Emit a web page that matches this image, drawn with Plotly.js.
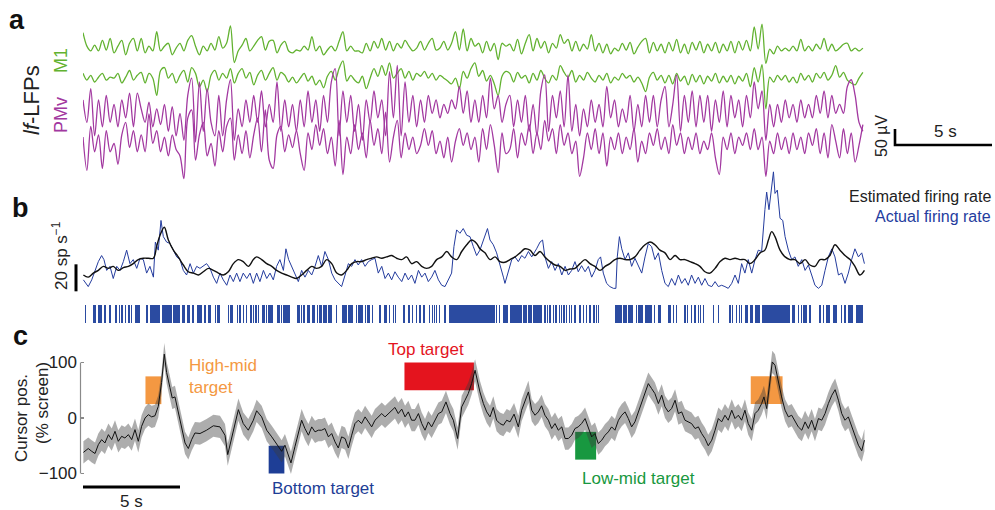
<!DOCTYPE html>
<html><head><meta charset="utf-8">
<script src="https://cdn.plot.ly/plotly-3.0.1.min.js"></script>
<style>html,body{margin:0;padding:0;background:#fff}#chart{width:995px;height:510px}</style>
</head><body><div id="chart"></div>
<script>
// ---------------- DATA ----------------
// Panel a: lf-LFPs (µV), sampled every 0.2 s
const lfpStep = 0.2;
const lfpM1a = [48,6,-9,9,-9,24,-6,30,-15,6, 24,-21,15,30,-9,30,-15,6,-9,51, -9,6,15,-21,0,15,-9,24,39,6,
 -21,6,-9,15,-6,36,0,15,69,-45, -9,9,30,-9,6,24,36,-6,21,24, -15,9,21,-9,-15,-6,
 -9,6,-6,36,-9,6,-21,-6,6,-9, 21,51,-9,6,-9,-9,-15,15,-9,21, 0,30,-6,21,-9,15,0,24,6,-9,
 0,21,-6,15,30,-6,0,21,-6,15, 51,-6,60,-9,30,6,15,-15,21,-9, 15,-36,15,6,
 12,-9,27,-18,15,42,-9,30,0,21, -15,15,0,42,15,27,-9,21,-9,12, -3,42,-9,15,-15,12,-18,0,-9,15,
 -6,18,-18,3,21,30,-15,18,-9,12, -15,18,-9,27,-15,12,-18,18,-6,21, -15,12,-9,18,-15,12,-9,21,-15,21,
 -6,24,-9,66,-3,75,-48,-3,-18,6, -9,0,-9,6,-9,27,-9,6,-9,12, -3,30,-9,12,-9,0,12,15,-9,0, -9,0];
const lfpM1b = [15,-6,9,-12,3,15,-6,3,0,15, -15,3,24,-6,9,18,-15,15,0,-54, 24,33,0,15,-15,9,24,-12,33,15,
 -27,-6,-42,9,24,-6,15,0,30,-15, 15,30,0,18,-21,9,24,-6,15,33, -6,18,9,-12,3,-15,
 0,15,-9,6,-21,-6,-30,6,21,-6, 30,54,-9,9,-6,-15,6,-33,0,30, 6,39,9,48,0,15,30,0,21,-6,
 15,6,21,0,15,-6,9,0,-9,-18, 0,-33,21,0,30,48,6,24,-9,9, -18,-54,6,21,
 15,-12,18,0,9,-15,15,-6,24,0, -15,9,-6,39,18,3,24,-12,9,-6, 18,0,-12,9,-6,15,-15,3,-6,15,
 0,9,-12,3,-15,-42,3,18,-6,9, -15,9,-18,15,-9,6,-21,12,-12,9, -18,6,-9,15,-15,6,-12,9,-18,6,
 -9,15,-27,33,-12,42,-96,3,-12,9, -6,9,-12,3,-15,15,-6,9,-12,15, 0,18,-6,9,39,3,18,-6,-15,-21, 0,18];
const lfpPMvA = [42,-28,77,-70,42,-42,56,-28,28,-42, 42,-14,63,-42,63,14,-28,35,-42,14, -35,28,-56,21,-70,0,-84,56,110,-90,
 98,-56,77,-28,-70,56,-70,42,105,-84, 14,-42,42,-28,56,-28,70,-42,28,-28, 98,-56,42,-42,28,-56,
 42,-42,70,-28,42,-56,56,-28,98,140, -70,70,-28,56,-56,28,-84,42,-28,70, -14,42,-70,130,-14,150,-70,98,-28,56,
 -42,42,-28,56,0,42,-14,28,0,42, 14,84,0,70,-28,42,-28,56,-14,110, 14,56,-28,28,
 56,-42,42,-28,56,-56,28,-70,70,120, -56,56,-14,70,-42,120,-56,28,-70,14, -42,42,-28,28,-42,84,-14,42,-42,14,
 -28,56,-56,28,-42,56,-28,56,-42,42, 84,-42,28,120,-56,56,-28,70,-42,56, -28,56,-56,42,-28,70,-42,56,-14,42,
 -42,56,-14,98,14,70,-84,28,-42,28, -28,42,-14,28,-28,42,-14,28,-14,56, 0,70,-14,56,0,28,0,84,105,56, -28,-56];
const lfpPMvB = [13,-91,46,-33,20,-85,33,-33,-7,-72, 20,59,-20,33,-33,20,-33,85,-7,33, -33,13,-46,20,-26,-46,-117,72,98,-59,
 20,59,-46,-7,-78,33,-33,46,72,-59, 20,-39,33,-52,20,72,-33,98,-59,-85, 20,46,-33,20,-20,33,
 -39,-91,26,-26,52,-13,39,-39,13,-78, 65,-104,13,-39,52,-26,26,-52,65,-13, 39,-39,91,-65,13,65,-52,26,-26,13,
 -39,-13,39,-13,33,-39,0,-52,13,-65, 0,39,-13,26,-26,13,-65,39,-26,52, -13,-98,26,-39,
 -26,39,-52,26,-13,52,-39,26,-26,65, 0,39,-39,52,-13,26,-39,0,-110,-52, 26,-26,39,-39,26,-78,13,-26,26,-39,
 13,-26,39,-65,0,-39,26,-13,39,-26, 13,-39,52,-13,26,-39,13,-26,26,-39, 0,-26,26,-52,-104,13,-26,26,-39,13,
 -13,26,-26,39,-26,13,-110,0,-39,26, -26,13,-39,26,-26,13,-39,26,-13,39, -39,26,-52,52,0,-52,39,-39,26,-65, -13,52];

// Panel b: firing rates (sp/s)
const actualT = [0.02,0.15,0.27,0.45,0.62,0.79,0.96,1.08,1.22,1.39, 1.56,1.74,1.91,2.08,2.25,2.42,2.59,2.77,2.94,3.11,
 3.28,3.45,3.63,3.73,3.88,4.02,4.14,4.31,4.48,4.66, 4.83,5.00,5.17,5.34,5.52,5.69,5.86,6.03,6.20,6.37,
 6.55,6.72,6.89,7.06,7.23,7.41,7.58,7.75,7.92,8.09, 8.26,8.44,8.61,8.78,8.95,9.12,9.30,9.47,9.64,9.81,
 9.98,10.15,10.33,10.46,10.60,10.76,10.93,11.10,11.27,11.44, 11.62,11.79,11.96,12.13,12.30,12.47,12.65,12.82,12.99,13.16,
 13.33,13.51,13.68,13.85,14.02,14.19,14.36,14.54,14.71,14.88, 15.05,15.22,15.40,15.57,15.74,15.91,16.08,16.25,16.43,16.60,
 16.77,16.94,17.11,17.29,17.46,17.63,17.80,17.97,18.14,18.32, 18.49,18.66,18.83,19.00,19.12,19.26,19.43,19.60,19.78,
 19.95,20.12,20.29,20.46,20.64,20.85,20.98,21.15,21.32,21.49, 21.67,21.75,21.92,22.10,22.27,22.44,22.61,22.78,22.96,23.13,
 23.38,23.56,23.69,23.81,23.99,24.16,24.33,24.50,24.68,24.85, 25.02,25.19,25.36,25.53,25.70,25.88,26.05,26.22,26.39,26.56,
 26.68,26.82,26.99,27.16,27.34,27.47,27.54,27.65,27.77,27.94, 28.11,28.28,28.45,28.63,28.80,28.97,29.14,29.31,29.48,29.66,
 29.83,30.00,30.17,30.34,30.52,30.69,30.86,31.03,31.20,31.37, 31.55,31.72,31.89,32.06,32.23,32.41,32.58,32.75,32.92,33.09,
 33.26,33.44,33.61,33.78,33.95,34.12,34.29,34.47,34.64,34.81, 34.98,35.15,35.24,35.36,35.50,35.59,35.67,35.79,35.93,36.07,
 36.19,36.36,36.53,36.70,36.87,37.05,37.22,37.39,37.56,37.73, 37.91,38.08,38.25,38.42,38.60,38.76,38.94,39.11,39.28,39.45,
 39.62,39.79,39.97,40.14,40.28];
const actualRate = [9,6.4,4,9,16,22.5,27,24,16,19, 10,19,16,22.5,31,21,24,17.5,25,24,
 14,19,11,37,31,53,41,37,36,31, 26,24,16,12.6,21,14,19,17.5,19,21,
 17.5,11,6.4,14,9,5,12.6,7.7,14,7.7, 14,10,14,6.4,14,7.7,16,10,14,9,
 19,24,16,32,24,19,14,7.7,16,11, 16,12.6,19,27,19,30,24,14,9,6.4,
 4,12.6,21,19,24,20,24,19,22.5,24, 25,14,19,10,14,9,15,11,7.7,14,
 9,12.6,6.4,16,11,14,7.7,11,16,9, 5,4,9,14,33.6,46,43.5,47,42,
 41,33.6,27,31,38.5,47,38.5,35,29,21, 11,6.4,16,24,26,22.5,27,25,30,26,
 32,37,38.5,26,17.5,22.5,16,21,12.6,19, 12.6,16,22.5,15,19.5,15,19,11,16,24,
 26,14,6.4,4,2.7,2.7,26,41,32,24, 29,19,25,19,14,26,36,33.6,24,29,
 16,6.4,4,10,5,12.6,6.4,10,5,12.6, 6.4,11,5,10,5,4,7.7,4,5,4,
 2.7,6.4,12.6,6.4,21,14,24,14,24,31, 30,61,74,61,80.5,89,73,75.5,54.6,53,
 41,31,24,26,19,24,16,20,12.6,5, 2.7,5,16,26,32,26,12.6,14,6.4,14,
 24,32,26,29,21];
const estT = [0.02,0.27,0.53,0.79,1.05,1.31,1.56,1.82,2.08,2.34, 2.59,2.85,3.11,3.37,3.63,3.80,3.97,4.19,4.40,4.66,
 4.91,5.17,5.43,5.69,5.95,6.20,6.46,6.72,6.98,7.23, 7.49,7.75,8.01,8.26,8.52,8.78,8.95,9.21,9.47,9.73,
 9.98,10.24,10.50,10.76,11.01,11.27,11.53,11.79,12.04,12.30, 12.56,12.82,13.08,13.33,13.59,13.85,14.11,14.36,14.62,14.88,
 15.14,15.40,15.65,15.91,16.17,16.43,16.68,16.94,17.20,17.46, 17.71,17.97,18.23,18.49,18.75,19.00,19.26,19.52,19.78,20.03,
 20.29, 20.46,20.72,20.98,21.24,21.49,21.75,22.01,22.27,22.53,
 22.78,23.04,23.30,23.56,23.81,24.07,24.33,24.59,24.85,25.10, 25.36,25.62,25.88,26.13,26.39,26.65,26.91,27.16,27.42,27.68,
 27.94,28.20,28.45,28.71,28.97,29.23,29.48,29.74,30.00,30.26, 30.52,30.77,31.03,31.29,31.55,31.80,32.06,32.32,32.58,32.84,
 33.09,33.35,33.61,33.87,34.12,34.38,34.64,34.90,35.15,35.33, 35.50,35.67,35.93,36.19,36.44,36.70,36.96,37.22,37.47,37.73,
 37.99,38.25,38.50,38.76,39.02,39.28,39.54,39.79,40.05,40.28];
const estRate = [12.6,11,14,16,19,17.5,19,16,18,19, 21,24,25,25,25,34,42,48,38.5,31,
 26,20,15,14,12.6,15,17.5,16,14,12.6, 15,21,24,22.5,19,24,26,24,21,19,
 16,14,12.6,11,10,12.6,16,19,17.5,19, 24,21,14,12.6,16,21,22.5,22.5,24,25,
 26,25,26,27,25,24,26,21,22.5,19, 17.5,19,24,26,30,26,24,30,35,38.5,
 36, 32,29,24,26,22.5,22,24,26,29,
 32,31,27,30,26,22.5,20,19,16,17, 17.5,21,24,21,19,16,19,21,24,25,
 24,24,26,31,35,37,35,31,29,24, 27,24,24,22.5,21,19,15,14,17.5,22.5,
 25,24,25,24,24,21,24,29,31,38.5, 44.7,41,31,26,24,24,21,24,20,19,
 24,24,27,35,31,27,24,19,12.6,16];

// Spike raster: burst/spike intervals (s)
const spikeStart = [0.12,0.53,0.79,1.13,1.39,1.65,1.87,1.94,2.20,2.34,2.51,2.68,3.23,3.45,4.07,4.66,5.10,5.34,5.62,5.86,
 6.24,6.46,6.84,6.89,7.49,7.58,7.97,8.09,8.26,8.44,8.61,8.78,8.92,9.04,9.21,9.47,9.55,9.98,10.24,10.33,
 11.05,11.27,11.39,11.53,11.79,12.08,12.18,12.39,12.65,13.08,13.33,13.68,14.11,14.19,14.57,14.66,14.90,15.31,15.52,15.62,
 15.79,16.00,16.12,16.48,16.77,16.98,17.20,17.37,17.58,17.85,18.01,18.13,18.23,18.37,18.66,18.88,21.32,21.46,21.67,22.01,
 22.70,22.96,23.21,23.81,23.93,24.07,24.24,24.38,24.55,24.67,24.79,24.93,25.07,25.19,25.36,25.62,25.79,25.96,26.13,26.34,
 26.48,26.56,27.42,27.86,28.11,28.54,28.63,28.97,29.48,29.66,29.74,30.17,30.26,30.43,30.60,31.03,31.15,31.37,31.55,31.72,
 31.81,31.98,32.49,32.75,33.35,33.49,33.69,33.83,33.95,34.12,34.38,34.64,34.98,36.53,36.87,37.05,37.13,37.47,37.99,38.16,
 38.30,38.64,39.11,39.28,39.45,39.85];
const spikeEnd = [0.12,0.67,0.98,1.13,1.39,1.77,1.87,2.04,2.20,2.42,2.51,2.94,3.37,3.97,4.57,5.00,5.26,5.52,5.74,6.12,
 6.34,6.58,6.84,7.06,7.49,7.71,7.97,8.09,8.26,8.44,8.69,8.78,8.92,9.04,9.38,9.47,9.81,10.15,10.24,10.67,
 11.19,11.27,11.39,11.70,11.96,12.08,12.32,12.56,12.82,13.08,13.59,13.93,14.11,14.45,14.57,14.79,14.97,15.31,15.52,15.62,
 15.79,16.00,16.12,16.60,16.86,16.98,17.20,17.37,17.58,17.85,18.01,18.13,18.23,18.37,18.66,21.24,21.32,21.46,21.92,22.61,
 22.87,23.13,23.64,23.81,23.93,24.07,24.24,24.38,24.55,24.67,24.79,24.93,25.07,25.19,25.36,25.62,25.79,25.96,26.13,26.34,
 26.48,26.56,27.77,28.03,28.37,28.54,28.89,29.31,29.48,29.66,29.74,30.17,30.26,30.43,30.60,31.03,31.15,31.37,31.55,31.72,
 31.81,31.98,32.49,32.75,33.35,33.49,33.69,33.83,33.95,34.29,34.55,34.90,36.44,36.70,36.87,37.05,37.30,37.47,37.99,38.16,
 38.50,38.85,39.11,39.28,39.71,40.23];

// Panel c: cursor position (% screen)
const cursorT = [0.02,0.27,0.45,0.62,0.79,0.96,1.13,1.31,1.48,1.65, 1.82,1.99,2.16,2.34,2.51,2.68,2.85,3.02,3.20,3.37,
 3.54,3.71,3.88,4.05,4.19,4.31,4.48,4.60,4.74,4.91, 5.09,5.26,5.43,5.60,5.77,
 6.03,6.37,6.72,7.06,7.32,7.46,7.75,8.01,8.26,8.52, 8.78,8.95,9.21,9.47,9.73,9.98,10.24,10.41,10.58,10.72,
 10.93,11.10,11.27,11.44,11.62,11.79,11.96,12.13,12.30,12.47, 12.65,12.82,12.99,13.16,13.33,13.51,13.68,13.85,14.02,14.19,
 14.36,14.54,14.71,14.88,15.05,15.22,15.40,15.57,15.74,15.91, 16.08,16.25,16.43,16.60,16.77,16.94,17.11,17.29,17.46,17.63,
 17.80,17.97,18.14,18.32,18.49,18.71,18.92,19.09,19.31,19.52, 19.69,19.86,20.03,20.21,
 20.46,20.64,20.81,20.98,21.15,21.32,21.49,21.67,21.84,22.01, 22.22,22.44,22.61,22.78,22.96,23.13,23.30,23.47,23.64,23.81,
 23.99,24.16,24.33,24.50,24.68,24.85,25.02,25.19,25.36,25.53, 25.70,25.88,26.05,26.22,26.39,26.56,26.74,26.91,27.08,27.25,
 27.42,27.60,27.77,27.94,28.11,28.28,28.45,28.63,28.80,28.97, 29.14,29.31,29.48,29.66,29.83,30.00,30.17,30.34,30.52,30.69,
 30.86,31.03,31.20,31.37,31.55,31.72,31.89,32.06,32.23,32.41, 32.58,32.75,32.92,33.09,33.26,33.44,33.61,33.78,33.95,34.12,
 34.29,34.47,34.64,34.81,34.98,35.10,35.24,35.41,35.53,35.67, 35.84,36.01,36.19,36.36,36.53,36.70,36.87,37.05,37.22,37.39,
 37.56,37.73,37.91,38.08,38.25,38.42,38.60,38.77,38.94,39.11, 39.28,39.45,39.63,39.80,39.97,40.14,40.28];
const cursorPos = [-62,-55,-60,-64,-48,-39,-45,-30,-39,-24, -42,-33,-36,-30,-39,-21,-42,-15,0,6,
 2,4,21,64,115,82,55,36,38,9, -21,-45,-55,-39,-27,
 -28,-22,-14,-16,-31,-66,-22,15,-10,-22, -4,13,2,-22,-34,-46,-60,-49,-69,-81,
 -51,-25,-4,-19,-31,-16,-25,-22,-22,-19, -34,-28,-43,-54,-34,-37,-54,-31,-10,-4,
 -10,2,-7,-16,-4,2,8,2,8,14, 19,8,16,2,11,-4,-4,8,-10,-22,
 -7,-16,-4,8,11,29,8,-4,-37,20, 32,44,62,86,
 47,26,11,2,19,-4,-10,-13,-4,-7, 7,-16,14,32,47,14,5,11,22,5,
 -4,-19,-10,-22,-16,-37,-37,-31,-19,-16, -10,-1,-16,-34,-28,-46,-40,-31,-25,-16,
 -22,-4,5,11,-1,-16,-7,11,26,41, 62,53,44,26,41,20,11,17,32,8,
 11,-4,-7,-10,-19,-16,-28,-37,-50,-40, -22,-1,-7,5,-4,14,-1,5,-4,14,
 -10,-22,8,14,26,38,17,71,101,95, 65,38,14,2,5,-7,-16,-22,-7,-19,
 -4,-22,-1,-4,8,26,41,51,32,8, -4,2,-16,-31,-49,-59,-40];
const cursorSem = 20;

// Targets (time window s, cursor range %)
const targetNames = ['High-mid','Bottom','Top','Low-mid','High-mid'];
const targetT0 = [3.22, 9.57, 16.57, 25.37, 34.42];
const targetT1 = [4.04, 10.38, 20.15, 26.45, 36.06];
const targetLo = [25, -100, 50, -75, 25];
const targetHi = [75, -50, 100, -25, 75];

// ---------------- LAYOUT HELPERS ----------------
const W = 995, H = 510, SEC = 19.4;
const PX = p => p / W, PY = p => 1 - p / H;
const FONT = 'Liberation Sans, Arial, Helvetica, sans-serif';
const GREEN = 'rgb(98,178,48)', PURPLE = 'rgb(162,56,160)', BLUE = 'rgb(36,60,158)';
const targetColors = {'High-mid':'rgb(244,152,66)','Bottom':'rgb(30,62,150)','Top':'rgb(228,20,30)','Low-mid':'rgb(24,152,64)'};
const lfpOffsets = [-94, -188, -298, -385];
const lfpColors = [GREEN, GREEN, PURPLE, PURPLE];
const lfpTime = lfpM1a.map((_, i) => i * lfpStep);

const traces = [];
[lfpM1a, lfpM1b, lfpPMvA, lfpPMvB].forEach((arr, k) => {
  traces.push({x: lfpTime, y: arr.map(v => v + lfpOffsets[k]), xaxis:'x', yaxis:'y', type:'scatter', mode:'lines',
    line:{color: lfpColors[k], width: 1.3, shape:'spline', smoothing:0.9}, hoverinfo:'skip'});
});
// panel a scale bars (50 µV, 5 s)
const aBarX = (895 - 83) / SEC, aBarY = -(145 - 18) * 3.125;
traces.push({x:[aBarX, aBarX, aBarX + 5], y:[aBarY + 50, aBarY, aBarY], xaxis:'x', yaxis:'y', mode:'lines',
  line:{color:'#000', width:2.6}, hoverinfo:'skip'});

// panel b
traces.push({x: actualT, y: actualRate, xaxis:'x2', yaxis:'y2', mode:'lines', line:{color: BLUE, width:1}, hoverinfo:'skip'});
traces.push({x: estT, y: estRate, xaxis:'x2', yaxis:'y2', mode:'lines', line:{color:'#111', width:1.4, shape:'spline'}, hoverinfo:'skip'});
const rBase = -(323 - 292) / 1.35, rHeight = (323 - 305) / 1.35;
traces.push({type:'bar', x: spikeStart.map((s, i) => (s + spikeEnd[i]) / 2), y: spikeStart.map(() => rHeight),
  base: rBase, width: spikeStart.map((s, i) => Math.max(spikeEnd[i] - s, 0.06)), xaxis:'x2', yaxis:'y2',
  marker:{color:'rgb(32,66,156)', line:{width:0}}, opacity:0.95, hoverinfo:'skip'});
traces.push({x:[-(83 - 76) / SEC, -(83 - 76) / SEC], y:[0.5, 20.5], xaxis:'x2', yaxis:'y2', mode:'lines',
  line:{color:'#000', width:3}, hoverinfo:'skip'});

// panel c
traces.push({x: cursorT, y: cursorPos.map(v => v + cursorSem), xaxis:'x3', yaxis:'y3', mode:'lines',
  line:{width:0, color:'rgba(0,0,0,0)'}, hoverinfo:'skip'});
traces.push({x: cursorT, y: cursorPos.map(v => v - cursorSem), xaxis:'x3', yaxis:'y3', mode:'lines', fill:'tonexty',
  fillcolor:'rgba(60,60,60,0.42)', line:{width:0, color:'rgba(0,0,0,0)'}, hoverinfo:'skip'});
traces.push({x: cursorT, y: cursorPos, xaxis:'x3', yaxis:'y3', mode:'lines', line:{color:'#111', width:1}, hoverinfo:'skip'});
const cBarY = -(487 - 418) / 0.555;
traces.push({x:[0, 5], y:[cBarY, cBarY], xaxis:'x3', yaxis:'y3', mode:'lines', line:{color:'#000', width:3.2}, hoverinfo:'skip'});

const shapes = targetNames.map((n, i) => ({type:'rect', xref:'x3', yref:'y3', x0: targetT0[i], x1: targetT1[i],
  y0: targetLo[i], y1: targetHi[i], fillcolor: targetColors[n], line:{width:0}, layer:'below'}));
shapes.push({type:'line', xref:'paper', yref:'y3', x0: PX(80.5), x1: PX(80.5), y0:-100, y1:100, line:{color:'#8a8a8a', width:1.2}});

const ann = (text, x, y, opts) => Object.assign({text, x: PX(x), y: PY(y), xref:'paper', yref:'paper', showarrow:false,
  xanchor:'center', yanchor:'middle', font:{family: FONT, size:17, color:'#222'}}, opts || {});
const annotations = [
  ann('<b>a</b>', 17, 20, {font:{family:FONT, size:27, color:'#111'}}),
  ann('<b>b</b>', 20, 208, {font:{family:FONT, size:27, color:'#111'}}),
  ann('<b>c</b>', 20, 336, {font:{family:FONT, size:27, color:'#111'}}),
  ann('<i>lf</i>-LFPs', 32, 100, {textangle:-90, font:{family:FONT, size:22, color:'#222'}}),
  ann('M1', 61, 61, {textangle:-90, font:{family:FONT, size:18, color:GREEN}}),
  ann('PMv', 61, 115, {textangle:-90, font:{family:FONT, size:18, color:PURPLE}}),
  ann('50 µV', 882, 136, {textangle:-90, font:{family:FONT, size:16, color:'#222'}}),
  ann('5 s', 945, 132, {font:{family:FONT, size:17, color:'#222'}}),
  ann('Estimated firing rate', 993, 197, {xanchor:'right', font:{family:FONT, size:16, color:'#222'}}),
  ann('Actual firing rate', 993, 216, {xanchor:'right', font:{family:FONT, size:16, color:BLUE}}),
  ann('20 sp s<sup>−1</sup>', 60, 256, {textangle:-90, font:{family:FONT, size:17, color:'#222'}}),
  ann('Cursor pos.', 21, 418, {textangle:-90, font:{family:FONT, size:17, color:'#222'}}),
  ann('(% screen)', 42, 403, {textangle:-90, font:{family:FONT, size:17, color:'#222'}}),
  ann('High-mid<br>target', 187, 376, {xanchor:'left', align:'left', font:{family:FONT, size:17, color:'rgb(244,152,66)'}}),
  ann('Top target', 426, 349, {font:{family:FONT, size:17, color:'rgb(228,20,30)'}}),
  ann('Bottom target', 323, 488, {font:{family:FONT, size:17, color:'rgb(30,62,150)'}}),
  ann('Low-mid target', 638, 478, {font:{family:FONT, size:17, color:'rgb(24,152,64)'}}),
  ann('5 s', 131, 501, {font:{family:FONT, size:17, color:'#222'}})
];

const hidden = {visible:false, fixedrange:true};
const layout = {
  width: W, height: H, margin:{l:0, r:0, t:0, b:0}, paper_bgcolor:'#fff', plot_bgcolor:'rgba(0,0,0,0)', showlegend:false,
  xaxis: Object.assign({domain:[PX(83), PX(995)], range:[0, (995 - 83) / SEC], anchor:'y'}, hidden),
  yaxis: Object.assign({domain:[PY(190), PY(10)], range:[-(190 - 18) * 3.125, (18 - 10) * 3.125], anchor:'x'}, hidden),
  xaxis2: Object.assign({domain:[PX(70), PX(870)], range:[-(83 - 70) / SEC, (870 - 83) / SEC], anchor:'y2'}, hidden),
  yaxis2: Object.assign({domain:[PY(325), PY(165)], range:[-(325 - 292) / 1.35, (292 - 165) / 1.35], anchor:'x2'}, hidden),
  xaxis3: Object.assign({domain:[PX(81), PX(870)], range:[-(83 - 81) / SEC, (870 - 83) / SEC], anchor:'y3'}, hidden),
  yaxis3: {domain:[PY(495), PY(330)], range:[-(495 - 418) / 0.555, (418 - 330) / 0.555], anchor:'x3', fixedrange:true,
    showgrid:false, zeroline:false, showline:false, tickvals:[-100, 0, 100], ticktext:['−100', '0', '100'],
    ticks:'inside', ticklen:3, tickwidth:1.2, tickcolor:'#8a8a8a', ticklabelstandoff:3,
    tickfont:{family:FONT, size:17, color:'#222'}},
  shapes, annotations, bargap:0
};
Plotly.newPlot('chart', traces, layout, {staticPlot:true, displayModeBar:false});
</script></body></html>
